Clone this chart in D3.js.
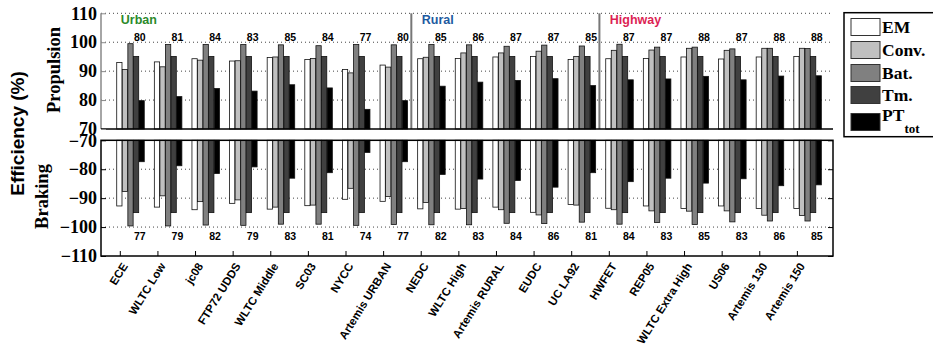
<!DOCTYPE html>
<html><head><meta charset="utf-8">
<script src="https://cdn.jsdelivr.net/npm/d3@7"></script>
<style>body{margin:0;background:#fff}svg{display:block}</style>
</head><body><svg id="chart" width="933" height="352"></svg>
<script>
const categories = ["ECE","WLTC Low","jc08","FTP72 UDDS","WLTC Middle","SC03","NYCC","Artemis URBAN",
  "NEDC","WLTC High","Artemis RURAL","EUDC","UC LA92","HWFET","REP05","WLTC Extra High","US06","Artemis 130","Artemis 150"];
const seriesNames = ["EM","Conv.","Bat.","Tm.","PT"];
// Propulsion efficiencies (%)
const emProp   = [93.0,93.2,94.3,93.5,94.7,94.0,90.6,92.1,94.3,94.4,94.9,95.1,94.0,94.3,94.4,94.9,94.2,94.9,95.1];
const convProp = [90.6,91.5,93.8,93.6,94.9,94.4,89.4,91.4,94.8,96.3,96.3,96.9,95.1,97.2,97.3,97.9,97.2,97.9,97.9];
const batProp  = [99.5,99.2,99.2,99.2,99.1,98.8,99.2,99.1,99.2,99.1,98.6,99.0,98.7,99.3,98.3,98.3,97.7,97.9,97.8];
const tmProp   = [95.1,95.1,95.1,95.1,95.1,95.1,95.1,95.1,95.1,95.1,95.1,95.1,95.1,95.1,95.1,95.1,95.1,95.1,95.1];
const ptProp   = [79.8,81.2,84.0,83.1,85.3,84.2,76.8,79.8,84.8,86.2,86.8,87.4,85.0,87.0,87.3,88.2,87.0,88.3,88.4];
// Braking efficiencies (%)
const emBrake   = [-92.7,-93.1,-94.0,-91.8,-93.8,-92.6,-90.4,-91.1,-93.7,-93.8,-93.1,-94.9,-92.2,-93.5,-92.7,-93.6,-92.7,-93.6,-93.6];
const convBrake = [-87.7,-89.2,-91.2,-90.6,-93.1,-92.4,-86.6,-89.4,-91.5,-93.6,-94.0,-95.8,-92.4,-94.0,-94.4,-94.5,-94.4,-95.9,-96.0];
const batBrake  = [-99.6,-99.6,-99.3,-99.4,-99.0,-99.0,-99.4,-99.1,-99.2,-99.2,-98.7,-98.8,-98.3,-99.0,-98.4,-99.1,-98.2,-97.9,-97.9];
const tmBrake   = [-95.0,-95.0,-95.0,-95.0,-95.0,-95.0,-95.0,-95.0,-95.0,-95.0,-95.0,-95.0,-95.0,-95.0,-95.0,-95.0,-95.0,-95.0,-95.0];
const ptBrake   = [-77.4,-78.8,-81.5,-79.2,-83.1,-81.2,-74.2,-77.4,-81.8,-83.4,-83.9,-86.2,-81.2,-84.3,-83.1,-84.8,-83.3,-85.7,-85.4];
// Annotated PT_tot labels
const ptPropLabels  = [80,81,84,83,85,84,77,80,85,86,87,87,85,87,87,88,87,88,88];
const ptBrakeLabels = [77,79,82,79,83,81,74,77,82,83,84,86,81,84,83,85,83,86,85];
// Cycle groups
const sectionNames  = ["Urban","Rural","Highway"];
const sectionStart  = [1, 9, 14];
const sectionColors = ["#2b8a2b","#1d5aa0","#dc1f55"];
const topTicks = [70,80,90,100,110];
const botTicks = [-110,-100,-90,-80,-70];

const seriesColors = ["#ffffff","#c0c0c0","#808080","#404040","#000000"];
const propSeries  = [emProp, convProp, batProp, tmProp, ptProp];
const brakeSeries = [emBrake, convBrake, batBrake, tmBrake, ptBrake];

const svg = d3.select("#chart");
const x = d3.scaleLinear().domain([0.5, 19.96]).range([101, 833]);
const yTop = d3.scaleLinear().domain([70, 110]).range([129, 13.3]);
const yBot = d3.scaleLinear().domain([-110, -70]).range([256, 140.3]);
const step = 0.148, bw = 0.14, start = -0.012;
const serif = "'Liberation Serif','Times New Roman',serif";
const sans = "'Liberation Sans',Arial,Helvetica,sans-serif";
const xL = x.range()[0], xR = x.range()[1];

// gridlines
const grid = svg.append("g").attr("stroke","#444").attr("stroke-width",1).attr("stroke-dasharray","1,3");
[80,90,100,110].forEach(v => grid.append("line").attr("x1",xL).attr("x2",xR).attr("y1",yTop(v)).attr("y2",yTop(v)));
[-100,-90,-80].forEach(v => grid.append("line").attr("x1",xL).attr("x2",xR).attr("y1",yBot(v)).attr("y2",yBot(v)));

// bars
const bars = svg.append("g");
propSeries.forEach((vals, k) => {
  bars.selectAll(null).data(vals).enter().append("rect")
    .attr("x", (d,i) => x(i + 1 + start + k*step - bw/2))
    .attr("width", x(bw) - x(0))
    .attr("y", d => yTop(d))
    .attr("height", d => yTop(70) - yTop(d))
    .attr("fill", seriesColors[k]).attr("stroke", "#111").attr("stroke-width", 0.8);
});
brakeSeries.forEach((vals, k) => {
  bars.selectAll(null).data(vals).enter().append("rect")
    .attr("x", (d,i) => x(i + 1 + start + k*step - bw/2))
    .attr("width", x(bw) - x(0))
    .attr("y", yBot(-70))
    .attr("height", d => yBot(d) - yBot(-70))
    .attr("fill", seriesColors[k]).attr("stroke", "#111").attr("stroke-width", 0.8);
});

// separators
sectionStart.slice(1).forEach(s => {
  svg.append("line").attr("x1", x(s - 0.25)).attr("x2", x(s - 0.25))
    .attr("y1", yTop(110)).attr("y2", yTop(70)).attr("stroke","#777").attr("stroke-width",2);
});
// section labels
sectionNames.forEach((n, j) => {
  svg.append("text").attr("x", x(sectionStart[j]) + 1).attr("y", 24)
    .attr("font-family", sans).attr("font-weight","bold").attr("font-size",12.5)
    .attr("fill", sectionColors[j]).text(n);
});

// value labels
svg.append("g").selectAll("text").data(ptPropLabels).enter().append("text")
  .attr("x", (d,i) => x(i+1) + 20).attr("y", 40.5).attr("text-anchor","middle")
  .attr("font-family", sans).attr("font-weight","bold").attr("font-size",10.5).text(d => d);
svg.append("g").selectAll("text").data(ptBrakeLabels).enter().append("text")
  .attr("x", (d,i) => x(i+1) + 20).attr("y", 239.5).attr("text-anchor","middle")
  .attr("font-family", sans).attr("font-weight","bold").attr("font-size",10.5).text(d => d);

// axes frames
const ax = svg.append("g").attr("stroke","#000").attr("stroke-width",1.5).attr("fill","none");
ax.append("line").attr("x1",xL).attr("x2",xL).attr("y1",yTop(110)).attr("y2",yTop(70)).attr("stroke","#888");
ax.append("line").attr("x1",xL).attr("x2",xR).attr("y1",yTop(70)).attr("y2",yTop(70));
ax.append("rect").attr("x",xL).attr("y",yBot(-70)).attr("width",xR-xL).attr("height",yBot(-110)-yBot(-70));

// y axes via d3
const yAxTop = svg.append("g").attr("transform",`translate(${xL},0)`)
  .call(d3.axisLeft(yTop).tickValues(topTicks).tickSize(-5).tickPadding(4));
const yAxBot = svg.append("g").attr("transform",`translate(${xL},0)`)
  .call(d3.axisLeft(yBot).tickValues(botTicks).tickSize(-5).tickPadding(4));
svg.append("g").attr("transform",`translate(${xR},0)`)
  .call(d3.axisRight(yBot).tickValues(botTicks).tickSize(-5).tickFormat(""));
[yAxTop, yAxBot].forEach(g => {
  g.select(".domain").remove();
  g.selectAll("text").attr("font-family", serif).attr("font-weight","bold").attr("font-size",18).attr("fill","#000");
  g.selectAll("line").attr("stroke","#000");
});
yAxTop.selectAll("line").attr("stroke","#888");
svg.selectAll(".domain").remove();

// x axis (bottom)
const xAx = svg.append("g").attr("transform",`translate(0,${yBot(-110)})`)
  .call(d3.axisBottom(x).tickValues(d3.range(1, categories.length+1)).tickSize(-5).tickFormat(""));
xAx.select(".domain").remove();
xAx.selectAll("line").attr("stroke","#000");
svg.append("g").selectAll("text").data(categories).enter().append("text")
  .attr("transform", (d,i) => `translate(${x(i+1)+8.5},266) rotate(-58)`)
  .attr("text-anchor","end")
  .attr("font-family", sans).attr("font-weight","bold").attr("font-size",11.5).text(d => d);

// axis titles
svg.append("text").attr("transform","translate(60,70) rotate(-90)").attr("text-anchor","middle")
  .attr("font-family", serif).attr("font-weight","bold").attr("font-size",18.5).text("Propulsion");
svg.append("text").attr("transform","translate(48,196.5) rotate(-90)").attr("text-anchor","middle")
  .attr("font-family", serif).attr("font-weight","bold").attr("font-size",18.5).text("Braking");
svg.append("text").attr("transform","translate(24,133.5) rotate(-90)").attr("text-anchor","middle")
  .attr("font-family", sans).attr("font-weight","bold").attr("font-size",19).text("Efficiency (%)");

// legend
const lg = svg.append("g");
lg.append("rect").attr("x",844).attr("y",12.7).attr("width",100).attr("height",124)
  .attr("fill","#fff").attr("stroke","#000").attr("stroke-width",1.5);
const legY = [27, 50, 73, 95, 122];
const legBase = [33.3, 55.5, 78.5, 100.5, 120.5];
seriesNames.forEach((n, k) => {
  lg.append("rect").attr("x",851).attr("y",legY[k]-8.5).attr("width",29).attr("height",17)
    .attr("fill",seriesColors[k]).attr("stroke","#333").attr("stroke-width",1);
  const t = lg.append("text").attr("x",882).attr("y", legBase[k])
    .attr("font-family", serif).attr("font-weight","bold").attr("font-size",17.5).text(k < 4 ? n : "PT");
  if (k === 4) t.append("tspan").attr("font-size",13).attr("dy",12).text("tot");
});
</script></body></html>
